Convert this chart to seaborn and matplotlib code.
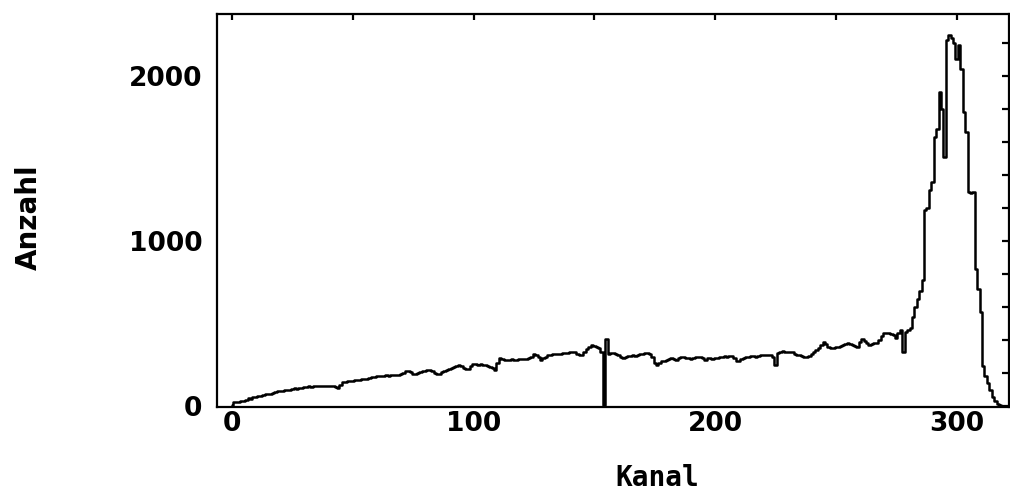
import matplotlib
matplotlib.use("Agg")
import matplotlib.pyplot as plt
import pandas as pd
import seaborn as sns

# Counts per channel (channels 0 .. 320)
kanal = list(range(0, 321))
anzahl = [
    5, 22, 26, 26, 28, 30, 35, 48, 45, 52,
    55, 60, 58, 66, 70, 75, 73, 80, 86, 90,
    93, 88, 95, 100, 98, 104, 107, 105, 107, 112,
    115, 118, 120, 117, 121, 120, 122, 119, 121, 124,
    122, 121, 121, 118, 107, 125, 147, 145, 150, 153,
    152, 155, 160, 158, 162, 163, 166, 170, 175, 178,
    180, 182, 182, 184, 186, 183, 188, 186, 187, 190,
    195, 200, 212, 212, 205, 195, 194, 198, 205, 210,
    215, 218, 218, 210, 200, 196, 194, 205, 215, 218,
    222, 228, 235, 242, 248, 240, 230, 226, 222, 240,
    257, 252, 248, 256, 250, 248, 240, 235, 228, 218,
    262, 288, 285, 280, 278, 278, 282, 280, 278, 285,
    283, 282, 283, 290, 300, 315, 312, 300, 278, 290,
    300, 308, 310, 313, 315, 316, 318, 319, 319, 322,
    325, 329, 326, 318, 312, 309, 330, 345, 360, 370,
    365, 355, 349, 330, 5, 404, 317, 322, 320, 315,
    312, 300, 289, 295, 302, 305, 309, 305, 310, 315,
    318, 322, 323, 318, 300, 260, 249, 258, 270, 275,
    278, 282, 290, 285, 280, 290, 295, 299, 292, 288,
    285, 293, 297, 295, 295, 290, 280, 292, 289, 285,
    288, 289, 295, 300, 303, 298, 303, 303, 290, 275,
    275, 285, 292, 299, 299, 303, 305, 300, 305, 308,
    309, 310, 312, 308, 300, 249, 320, 330, 333, 328,
    330, 329, 325, 318, 312, 309, 305, 300, 295, 305,
    315, 330, 339, 350, 370, 390, 375, 360, 349, 352,
    355, 360, 365, 372, 378, 380, 375, 368, 362, 360,
    385, 404, 395, 380, 370, 375, 380, 384, 400, 425,
    440, 442, 440, 438, 430, 410, 440, 460, 329, 450,
    460, 470, 540, 600, 650, 700, 765, 1190, 1200, 1310,
    1360, 1630, 1680, 1900, 1800, 1510, 2220, 2250, 2230, 2200,
    2100, 2190, 2040, 1780, 1660, 1300, 1290, 1300, 830, 710,
    570, 240, 180, 140, 95, 57, 30, 12, 4, 0,
    0,
]

x_major = [0, 100, 200, 300]
x_minor = [50, 150, 250]
y_major = [0, 1000, 2000]
y_minor = [200, 400, 600, 800, 1200, 1400, 1600, 1800, 2200]

sns.set_style("white")
plt.rcParams["font.family"] = ["DejaVu Sans"]
plt.rcParams["text.color"] = "black"
plt.rcParams["axes.labelcolor"] = "black"
plt.rcParams["xtick.color"] = "black"
plt.rcParams["ytick.color"] = "black"

fig = plt.figure(figsize=(10.10, 4.93), dpi=100)
ax = fig.add_axes([0.2146, 0.1751, 0.7845, 0.7966])

df = pd.DataFrame({"Kanal": kanal, "Anzahl": anzahl})
sns.lineplot(data=df, x="Kanal", y="Anzahl", drawstyle="steps-mid",
             color="black", lw=1.8, ax=ax)

ax.set_xlim(-6.3, 321.7)
ax.set_ylim(-4, 2376)

ax.set_xticks(x_major, labels=[str(v) for v in x_major])
ax.set_xticks(x_minor, minor=True)
ax.set_yticks(y_major, labels=[str(v) for v in y_major])
ax.set_yticks(y_minor, minor=True)

for spine in ax.spines.values():
    spine.set_visible(True)
    spine.set_color("black")
    spine.set_linewidth(1.6)

ax.tick_params(axis="both", which="both", direction="in", top=True, right=True,
               color="black", labelcolor="black", width=1.6)
ax.tick_params(axis="x", which="both", length=4, pad=3)
ax.tick_params(axis="y", which="both", length=5, pad=10.5)

tick_font = dict(family="DejaVu Sans", weight="bold", size=19)
for lab in ax.get_xticklabels() + ax.get_yticklabels():
    lab.set_fontfamily(tick_font["family"])
    lab.set_fontweight(tick_font["weight"])
    lab.set_fontsize(tick_font["size"])

ax.set_xlabel("Kanal", family="DejaVu Sans Mono", weight="bold", fontsize=20,
              color="black")
ax.xaxis.set_label_coords(0.556, -0.145)
ax.set_ylabel("Anzahl", family="DejaVu Sans", weight="bold", fontsize=20,
              color="black")
ax.yaxis.set_label_coords(-0.219, 0.483)

fig.savefig("out.png", dpi=100, facecolor="white")
